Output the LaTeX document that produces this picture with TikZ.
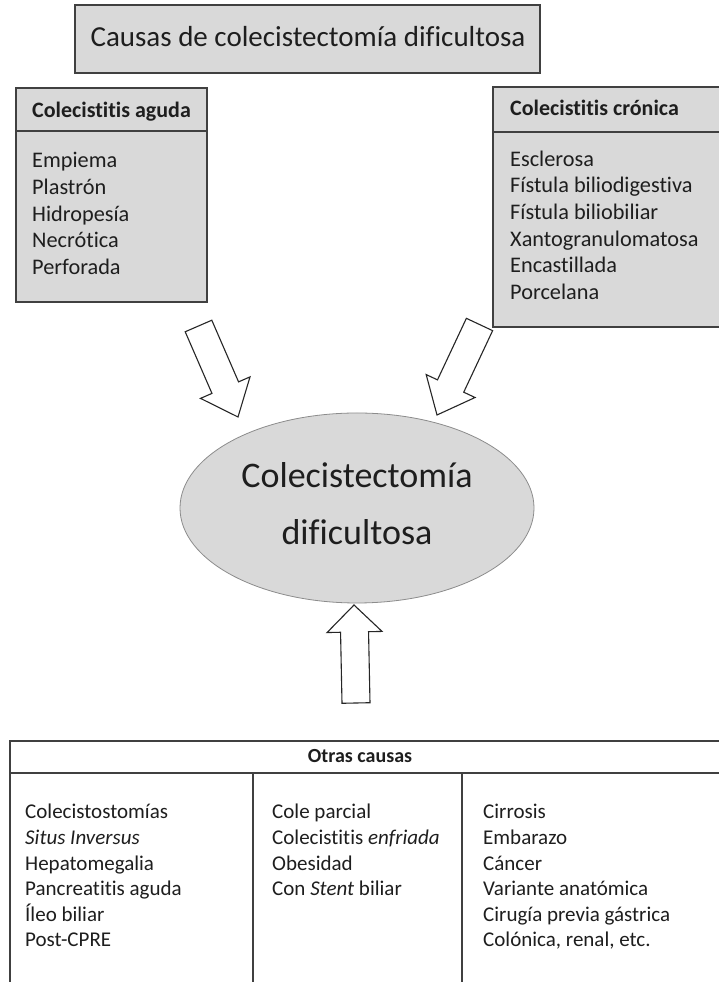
\documentclass[tikz,border=0pt]{standalone}
\usepackage{fontspec}
\setmainfont{Carlito}[Ligatures=NoCommon]
\usetikzlibrary{calc}
\definecolor{boxgray}{RGB}{217,217,217}
\definecolor{edgegray}{RGB}{64,64,64}
\definecolor{txt}{RGB}{30,30,30}
\tikzset{
  graybox/.style={draw=edgegray, line width=1.5pt, fill=boxgray},
  tablebox/.style={draw=edgegray, line width=1.4pt},
  item/.style={anchor=base west, inner sep=0pt, text=txt, font=\fontsize{22.3}{26}\selectfont},
  head/.style={anchor=base west, inner sep=0pt, text=txt, font=\fontsize{22}{26}\selectfont\bfseries},
  titem/.style={anchor=base west, inner sep=0pt, text=txt, font=\fontsize{21}{25}\selectfont},
  blockarrow/.style={draw=black!85, line width=1.1pt, fill=white, line join=miter},
}
\newcommand\blockarr[5]{%
  \coordinate (#1-hb) at ($(#2)!#5!(#1)$);
  \draw[blockarrow] ($(#1)!#3!90:(#2)$) -- ($(#1-hb)!#3!90:(#2)$) -- ($(#1-hb)!#4!90:(#2)$) -- (#2)
     -- ($(#1-hb)!#4!-90:(#2)$) -- ($(#1-hb)!#3!-90:(#2)$) -- ($(#1)!#3!-90:(#2)$) -- cycle;}
\begin{document}
\begin{tikzpicture}[x=1pt,y=1pt]
\clip (0,0) rectangle (719,982);
\fill[white] (0,0) rectangle (719,982);

% title box
\draw[graybox] (75,909) rectangle (540,977);
\node[anchor=base, inner sep=0pt, text=txt, font=\fontsize{29}{34}\selectfont] (title) at (308,935) {Causas de colecistectomía dificultosa};

% left box
\draw[graybox] (16,680) rectangle (207,894);
\draw[edgegray, line width=1.5pt] (16,851) -- (207,851);
\node[head] (lh) at (32,864) {Colecistitis aguda};
\node[item] (l1) at (32,814) {Empiema};
\node[item] (l2) at (32,787) {Plastrón};
\node[item] (l3) at (32,760) {Hidropesía};
\node[item] (l4) at (32,734) {Necrótica};
\node[item] (l5) at (32,707) {Perforada};

% right box
\draw[graybox] (493,655) rectangle (724,895);
\draw[edgegray, line width=1.5pt] (493,850) -- (724,850);
\node[head] (rh) at (510,866) {Colecistitis crónica};
\node[item] (r1) at (510,815) {Esclerosa};
\node[item] (r2) at (510,789) {Fístula biliodigestiva};
\node[item] (r3) at (510,762) {Fístula biliobiliar};
\node[item] (r4) at (510,735) {Xantogranulomatosa};
\node[item] (r5) at (510,709) {Encastillada};
\node[item] (r6) at (510,682) {Porcelana};

% ellipse
\draw[draw=black!45, line width=0.8pt, fill=boxgray] (357,474) ellipse [x radius=177, y radius=95];
\coordinate (ell) at (357,474);
\node[anchor=base, inner sep=0pt, text=txt, font=\fontsize{36}{42}\selectfont] (e1) at (357,494) {Colecistectomía};
\node[anchor=base, inner sep=0pt, text=txt, font=\fontsize{36}{42}\selectfont] (e2) at (357,437) {dificultosa};

% block arrows
\coordinate (la) at (198.5,656); \coordinate (lt) at (238,565);
\coordinate (ra) at (479.5,657.5); \coordinate (rt) at (437,567);
\coordinate (ba) at (356,279); \coordinate (bt) at (354,377);
\blockarr{la}{lt}{14.5pt}{27pt}{32pt}
\blockarr{ra}{rt}{14.5pt}{27pt}{32pt}
\blockarr{ba}{bt}{14pt}{27.5pt}{27pt}

% bottom table
\draw[tablebox] (10,-10) -- (10,241) -- (730,241);
\draw[tablebox] (10,209) -- (730,209);
\draw[tablebox] (253,209) -- (253,-10);
\draw[tablebox] (462,209) -- (462,-10);
\node[anchor=base, inner sep=0pt, text=txt, font=\fontsize{20}{24}\selectfont\bfseries] (oh) at (360,219) {Otras causas};

\node[titem] (a1) at (25,163) {Colecistostomías};
\node[titem] (a2) at (25,137.4) {\itshape Situs Inversus};
\node[titem] (a3) at (25,111.8) {Hepatomegalia};
\node[titem] (a4) at (25,86.2) {Pancreatitis aguda};
\node[titem] (a5) at (25,60.6) {Íleo biliar};
\node[titem] (a6) at (25,35) {Post-CPRE};

\node[titem] (b1) at (272,163) {Cole parcial};
\node[titem] (b2) at (272,137.4) {Colecistitis \textit{enfriada}};
\node[titem] (b3) at (272,111.8) {Obesidad};
\node[titem] (b4) at (272,86.2) {Con \textit{Stent} biliar};

\node[titem] (c1) at (483,163) {Cirrosis};
\node[titem] (c2) at (483,137.4) {Embarazo};
\node[titem] (c3) at (483,111.8) {Cáncer};
\node[titem] (c4) at (483,86.2) {Variante anatómica};
\node[titem] (c5) at (483,60.6) {Cirugía previa gástrica};
\node[titem] (c6) at (483,35) {Colónica, renal, etc.};
\end{tikzpicture}
\end{document}
